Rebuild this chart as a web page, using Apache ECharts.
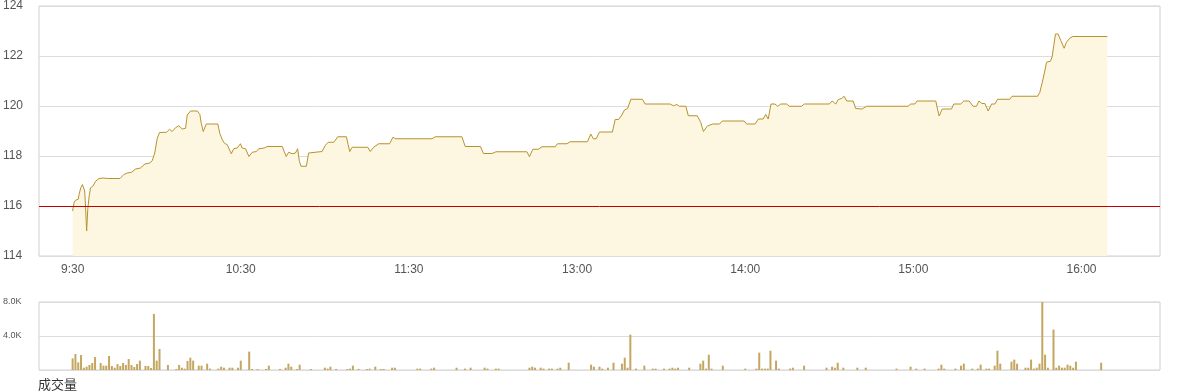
<!DOCTYPE html>
<html>
<head>
<meta charset="utf-8">
<script src="https://cdn.jsdelivr.net/npm/echarts@6/dist/echarts.min.js"></script>
<style>
html,body{margin:0;padding:0;background:#fff;}
#main{width:1180px;height:392px;}
</style>
</head>
<body>
<div id="main"></div>
<script>
// minutes since 9:30 (trading minutes)
const priceTimes = [0,0.5,1,2,2.3,2.9,3.5,4.0,4.3,4.6,5.0,5.4,5.9,6.4,7.2,8.2,9.4,10.8,11.5,12.7,16.9,18.3,19.5,21.0,22.5,24.2,25.8,27.5,28.4,29.3,30.2,31.0,33.5,34.6,35.5,36.7,37.9,39.1,40.3,40.9,42.1,44.5,45.4,45.9,46.6,47.7,51.8,52.5,53.4,54.2,55.2,56.6,57.5,58.7,59.9,60.5,61.7,62.9,64.1,65.6,66.4,68.4,69.4,74.8,76.2,77.1,78.3,79.5,80.3,80.9,81.5,83.4,84.2,84.8,89.0,90.2,91.2,93.2,94.6,97.7,98.3,98.9,99.7,105.3,106.2,107.4,109.2,113.1,114.3,115.2,128.2,129.4,138.9,140.1,145.5,146.6,149.6,151.1,162.1,163.0,164.2,166.2,167.5,172.2,173.0,176.4,177.5,183.7,184.9,185.8,186.8,188.0,192.6,193.6,194.8,196.0,196.9,198.0,199.2,203.3,204.3,213.2,214.4,215.6,216.5,218.8,219.7,222.9,224.1,225.1,226.5,228.4,230.8,231.8,239.6,240.5,243.5,244.7,246.4,247.3,248.2,249.2,250.6,251.6,252.7,254.8,255.7,260.1,261.1,270.0,271.0,272.3,273.2,274.4,275.3,276.2,278.5,279.4,281.7,283.3,298.1,299.1,300.5,301.3,308.0,308.6,309.2,310.3,313.6,314.4,316.9,318.0,319.9,321.3,322.5,323.4,324.5,325.5,326.7,327.9,329.1,330.0,334.4,335.2,344.3,345.1,345.9,346.9,347.5,348.1,348.9,349.5,350.1,350.7,351.6,352.6,353.8,354.6,355.8,356.9,369.2];
const priceValues = [115.80,116.13,116.23,116.27,116.46,116.73,116.86,116.90,116.60,116.00,115.00,115.87,116.40,116.73,116.79,116.99,117.10,117.12,117.16,117.10,117.10,117.26,117.32,117.35,117.48,117.52,117.68,117.72,117.81,118.12,118.71,118.94,118.95,119.07,118.98,119.13,119.21,119.08,119.11,119.64,119.80,119.80,119.66,119.31,118.98,119.28,119.28,118.91,118.65,118.51,118.45,118.09,118.29,118.32,118.49,118.32,118.29,117.98,118.15,118.18,118.29,118.32,118.38,118.38,117.98,118.15,118.09,118.12,118.29,117.79,117.59,117.59,118.12,118.18,118.18,118.43,118.55,118.55,118.77,118.77,118.45,118.18,118.35,118.35,118.18,118.35,118.49,118.49,118.75,118.69,118.69,118.77,118.77,118.38,118.38,118.10,118.10,118.17,118.17,117.97,118.27,118.27,118.37,118.37,118.49,118.49,118.57,118.57,118.88,118.69,118.69,118.96,118.96,119.46,119.46,119.64,119.84,119.90,120.27,120.27,120.08,120.08,120.01,120.06,119.99,119.99,119.61,119.61,119.35,118.98,119.20,119.28,119.28,119.40,119.40,119.28,119.28,119.48,119.48,119.66,119.48,120.08,120.08,119.99,120.08,120.08,119.99,119.99,120.08,120.08,120.20,120.08,120.26,120.30,120.39,120.20,120.20,119.90,119.88,119.99,119.99,120.08,120.08,120.20,120.20,119.88,119.60,119.88,119.88,120.08,120.08,120.20,120.20,119.99,119.99,120.20,120.10,120.10,119.80,120.08,120.08,120.27,120.27,120.39,120.39,120.54,120.90,121.40,121.75,121.73,121.79,121.96,122.42,122.88,122.88,122.62,122.31,122.55,122.71,122.78,122.78];
const baseLine = 116;

const volTimes = [0,1,2,3,4,5,6,7,8,10,11,12,13,14,15,16,17,18,19,20,21,22,23,24,26,27,28,29,30,31,34,37,38,39,40,41,42,43,45,46,48,49,52,53,54,56,57,59,60,63,64,66,69,70,74,76,77,78,80,81,85,90,91,92,94,98,99,100,102,105,106,108,110,111,114,115,123,124,128,129,137,140,142,147,148,151,152,163,164,165,167,168,170,171,173,174,177,185,186,188,189,191,193,196,197,198,199,201,204,207,208,211,213,214,215,216,220,224,225,226,227,228,232,240,244,245,246,247,248,249,251,252,256,257,261,269,271,272,273,275,280,283,294,299,301,304,309,310,311,315,317,318,321,323,324,326,327,329,330,331,335,336,337,340,341,342,343,344,345,346,347,348,350,351,352,353,354,355,356,357,358,367];
const volValues = [1370,1880,900,1760,270,390,590,820,1530,820,510,510,1650,470,270,700,470,820,590,1290,590,350,700,1100,470,470,240,6590,1100,2470,590,120,590,270,160,1060,1450,1100,510,510,745,160,160,390,270,270,270,270,1100,2160,120,120,120,510,120,270,745,390,120,630,120,270,160,390,120,120,160,510,120,120,160,390,120,120,270,270,160,160,160,270,270,160,270,270,160,160,160,270,390,270,270,160,160,160,160,270,860,630,390,390,160,270,860,745,1450,270,4160,160,510,160,160,160,160,270,160,270,270,745,1100,160,1800,160,510,160,160,2040,160,160,160,2270,1100,160,160,270,510,270,390,270,860,270,270,270,160,390,160,160,160,630,160,160,510,745,160,160,630,160,160,510,2270,745,980,1220,745,270,270,1220,160,270,745,8000,1800,270,4750,270,510,270,270,630,510,270,980,860];

const tickValues = [0,60,120,180,240,300,360];
const tickLabels = ['9:30','10:30','11:30','13:00','14:00','15:00','16:00'];
const volLabel = '成交量';

const priceData = priceTimes.map((t,i)=>[t, priceValues[i]]);
const volData = volTimes.map((t,i)=>[t, volValues[i]]);

const chart = echarts.init(document.getElementById('main'), null, {renderer:'canvas'});
const font = 'Arial, "Liberation Sans", sans-serif';
chart.setOption({
  animation:false,
  textStyle:{fontFamily:font},
  grid:[
    {left:38, right:20, top:4, bottom:136, show:true, borderColor:'#d0d0d0', borderWidth:1},
    {left:38, right:20, top:302, bottom:22, show:true, borderColor:'#d0d0d0', borderWidth:1}
  ],
  xAxis:[
    {type:'value', gridIndex:0, min:-12, max:388, interval:12,
     axisLine:{show:false}, axisTick:{show:false}, splitLine:{show:false},
     axisLabel:{color:'#555', fontSize:12, margin:8, fontFamily:font,
       showMinLabel:false, showMaxLabel:false,
       formatter:function(v){const i=tickValues.indexOf(v);return i>=0?tickLabels[i]:'';}}},
    {type:'value', gridIndex:1, min:-12, max:388, interval:12,
     axisLine:{show:false}, axisTick:{show:false}, splitLine:{show:false}, axisLabel:{show:false}}
  ],
  yAxis:[
    {type:'value', gridIndex:0, min:114, max:124, interval:2,
     axisLine:{show:false}, axisTick:{show:false},
     splitLine:{lineStyle:{color:'#dcdcdc', width:1}},
     axisLabel:{color:'#555', fontSize:12, align:'left', margin:36, fontFamily:font}},
    {type:'value', gridIndex:1, min:0, max:8000, interval:4000,
     axisLine:{show:false}, axisTick:{show:false},
     splitLine:{lineStyle:{color:'#dcdcdc', width:1}},
     axisLabel:{color:'#555', fontSize:9, align:'left', margin:36, fontFamily:font,
       formatter:function(v){return v===0?'':(v/1000).toFixed(1)+'K';}}}
  ],
  graphic:[
    {type:'text', left:38, top:378, style:{text:volLabel, fill:'#333', font:'13px "Noto Sans CJK SC", sans-serif'}}
  ],
  series:[
    {type:'line', xAxisIndex:0, yAxisIndex:0, data:priceData, showSymbol:false, symbol:'none',
     lineStyle:{color:'#b8912c', width:1}, areaStyle:{color:'#fdf7e1', origin:'start', opacity:1},
     markLine:{silent:true, symbol:['none','none'], label:{show:false},
       lineStyle:{color:'#c40000', width:1, type:'solid'}, data:[{yAxis:baseLine}]}},
    {type:'bar', xAxisIndex:1, yAxisIndex:1, data:volData, barWidth:2,
     itemStyle:{color:'#c4a661'}}
  ]
});
</script>
</body>
</html>
